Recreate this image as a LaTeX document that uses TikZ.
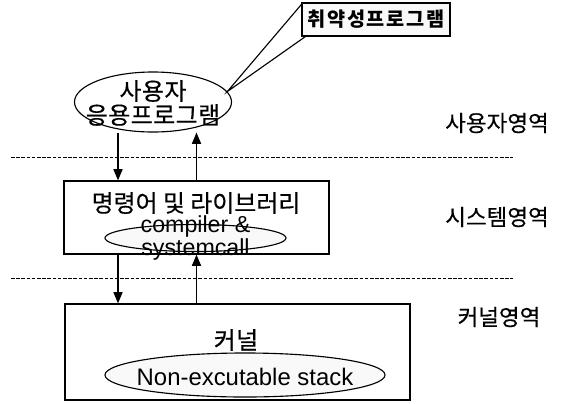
\documentclass[tikz,border=0pt]{standalone}
\usepackage{fontspec}
\setmainfont{Liberation Sans}
\newfontfamily\kr[FakeBold=0.4]{Noto Sans CJK KR}
\newfontfamily\krsp[FakeBold=0.4, LetterSpace=2]{Noto Sans CJK KR}
\newfontfamily\krb[LetterSpace=8]{Noto Sans CJK KR}
\usetikzlibrary{arrows.meta, shapes.geometric, calc}

\begin{document}
\begin{tikzpicture}[x=0.025cm, y=-0.025cm,
    layer/.style={draw, rectangle, line width=0.9pt, inner sep=0pt},
    oval/.style={draw, ellipse, line width=0.8pt, inner sep=0pt},
    callbox/.style={draw, rectangle, line width=0.8pt, fill=gray!5, inner sep=0pt, font=\krb\bfseries\fontsize{14}{17}\selectfont},
    arrow/.style={-{Triangle[length=8pt, width=6.5pt]}, line width=0.9pt},
    sep/.style={dash pattern=on 2.5pt off 1.2pt, line width=0.6pt},
    kor/.style={font=\kr\fontsize{17}{17}\selectfont, align=center},
    korsp/.style={font=\krsp\fontsize{17}{17}\selectfont, align=center},
    eng/.style={font=\fontsize{16.5}{16.4}\selectfont, align=center},
    zone/.style={font=\kr\fontsize{16}{17}\selectfont}
  ]
  \useasboundingbox (0,0) rectangle (566,403);

  % --- User area ---
  \node[oval, minimum width=3.925cm, minimum height=1.5cm] (app) at (153,102) {};
  \node[korsp] (app_txt) at (153,103) {사용자\\응용프로그램};
  \node[callbox, minimum width=3.7cm, minimum height=0.825cm] (vuln) at (376,19.5) {취약성프로그램};
  \coordinate (tip) at (app.8);
  \draw[line width=0.8pt] ($(vuln.north west)+(0,2)$) -- (tip) -- ($(vuln.south west)+(4,0)$);
  \node[zone] (user_zone) at (497,123) {사용자영역};

  \draw[sep] (11,157) -- (513,157);

  % --- System area ---
  \node[layer, minimum width=6.625cm, minimum height=1.825cm] (sys) at (196.5,217.5) {};
  \node[kor] (sys_txt) at (196,203) {명령어 및 라이브러리};
  \node[oval, fill=gray!5, minimum width=4.525cm, minimum height=0.675cm] (call) at (195.5,238) {};
  \node[eng] (call_txt) at (call) {compiler \&\\systemcall};
  \node[zone] (sys_zone) at (497,217) {시스템영역};

  \draw[sep] (11,278) -- (513,278);

  % --- Kernel area ---
  \node[layer, minimum width=8.625cm, minimum height=2.4cm] (kern) at (237.5,352) {};
  \node[korsp] (kern_txt) at (236,340) {커널};
  \node[oval, fill=gray!5, minimum width=7cm, minimum height=1.1cm] (stack) at (245,375) {};
  \node[font=\fontsize{17}{20}\selectfont] (stack_txt) at (245,377) {Non-excutable stack};
  \node[zone] (kern_zone) at (499,317) {커널영역};

  % --- Calls between areas ---
  \coordinate (app_dn) at ($(app.south)+(-35,0)$);
  \coordinate (sys_dn) at ($(sys.south)+(-78.5,0)$);
  \draw[arrow] (app_dn) -- (app_dn |- sys.north);
  \draw[arrow] (sys.north) -- (sys.north |- app.south);
  \draw[arrow] (sys_dn) -- (sys_dn |- kern.north);
  \draw[arrow] (sys.south |- kern.north) -- (sys.south);

\end{tikzpicture}
\end{document}
